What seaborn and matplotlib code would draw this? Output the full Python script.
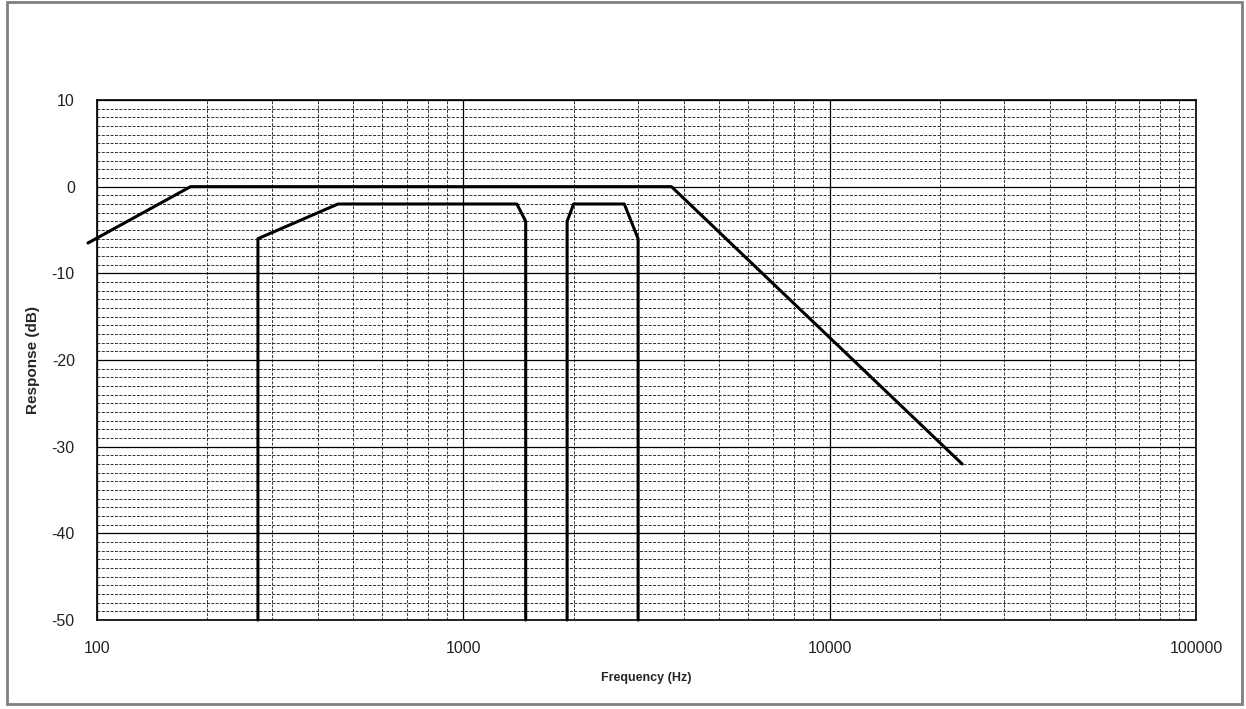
import numpy as np
import pandas as pd
import matplotlib
matplotlib.use("Agg")
import matplotlib.pyplot as plt
import matplotlib.ticker as mticker
from matplotlib.patches import Rectangle
import seaborn as sns

# values
wide_freq = [94.5, 180, 3700, 23000]
wide_db = [-6.5, 0, 0, -32]

low_freq = [275, 275, 455, 1400, 1480, 1480]
low_db = [-50, -6, -2, -2, -4, -50]

high_freq = [1920, 1920, 2000, 2750, 3000, 3000]
high_db = [-50, -4, -2, -2, -6, -50]

x_ticks = [100, 1000, 10000, 100000]
x_tick_labels = ["100", "1000", "10000", "100000"]
y_ticks = [-50, -40, -30, -20, -10, 0, 10]

sns.set_style("white")
plt.rcParams['font.family'] = ['Liberation Sans', 'DejaVu Sans']
plt.rcParams['axes.unicode_minus'] = False

fig = plt.figure(figsize=(12.46, 7.09), dpi=100)
ax = fig.add_axes([97 / 1246, 1 - 620 / 709, (1196 - 97) / 1246, 520 / 709])

for fr, db in [(wide_freq, wide_db), (low_freq, low_db), (high_freq, high_db)]:
    df = pd.DataFrame({"freq": fr, "db": db})
    sns.lineplot(data=df, x="freq", y="db", sort=False, estimator=None,
                 color="black", linewidth=2.2, ax=ax, clip_on=False, zorder=5)

ax.set_xscale("log")
ax.set_xlim(100, 100000)
ax.set_ylim(-50, 10)

ax.set_xticks(x_ticks)
ax.set_xticklabels(x_tick_labels)
ax.set_yticks(y_ticks)
ax.set_yticklabels([str(v) for v in y_ticks])
ax.xaxis.set_minor_locator(mticker.LogLocator(base=10, subs=np.arange(2, 10)))
ax.xaxis.set_minor_formatter(mticker.NullFormatter())
ax.yaxis.set_minor_locator(mticker.MultipleLocator(1))

ax.grid(which="major", color="black", linestyle="-", linewidth=0.9)
ax.grid(which="minor", color="#333333", linestyle=(0, (3, 1.5)), linewidth=0.7)
ax.set_axisbelow(True)

ax.tick_params(which="both", length=0)
ax.tick_params(axis="x", pad=15, labelsize=11.5, labelcolor="#222222")
ax.tick_params(axis="y", pad=16, labelsize=11.5, labelcolor="#222222")

for sp in ax.spines.values():
    sp.set_color("black")
    sp.set_linewidth(1.2)

ax.set_xlabel("Frequency (Hz)", fontsize=9, fontweight="bold", labelpad=12)
ax.set_ylabel("Response (dB)", fontsize=11, fontweight="bold", labelpad=8)

fig.patches.append(Rectangle((7 / 1246, 5 / 709), 1235 / 1246, 702 / 709,
                             transform=fig.transFigure, fill=False,
                             edgecolor="#808080", linewidth=2))

fig.savefig("out.png", dpi=100)
